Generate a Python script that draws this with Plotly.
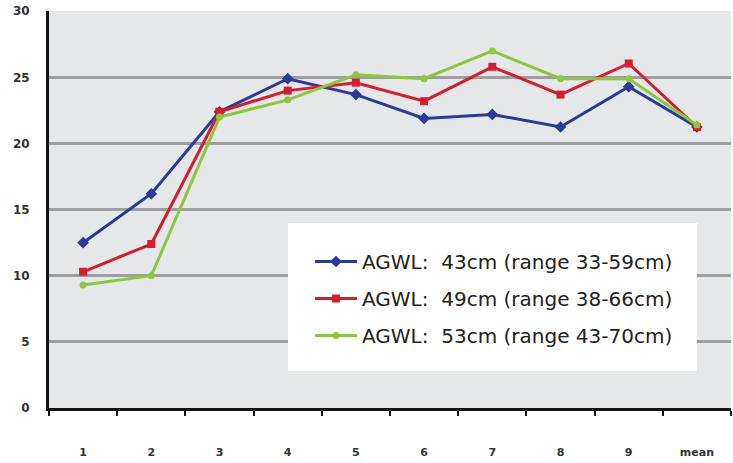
import plotly.graph_objects as go

categories = ["1", "2", "3", "4", "5", "6", "7", "8", "9", "mean"]
series_names = [
    "AGWL:\u00a0 43cm (range 33-59cm)",
    "AGWL:\u00a0 49cm (range 38-66cm)",
    "AGWL:\u00a0 53cm (range 43-70cm)",
]
blue_vals = [12.5, 16.2, 22.4, 24.9, 23.7, 21.9, 22.2, 21.25, 24.3, 21.25]
red_vals = [10.3, 12.4, 22.4, 24.0, 24.6, 23.2, 25.8, 23.7, 26.05, 21.25]
green_vals = [9.3, 10.0, 22.0, 23.3, 25.2, 24.9, 27.0, 24.9, 24.9, 21.4]
y_ticks = [0, 5, 10, 15, 20, 25, 30]

colors = ["#2b3a98", "#d21f30", "#8dc63f"]
symbols = ["diamond", "square", "circle"]
msizes = [9, 8, 7]

fig = go.Figure()
for i, vals in enumerate([blue_vals, red_vals, green_vals]):
    fig.add_trace(go.Scatter(
        x=categories, y=vals, name=series_names[i], mode="lines+markers",
        line=dict(color=colors[i], width=3),
        marker=dict(symbol=symbols[i], size=msizes[i], color=colors[i]),
        legendgroup=f"g{i}",
    ))

fig.add_shape(type="rect", xref="paper", yref="paper",
              x0=(288 - 49) / 682, x1=(697 - 49) / 682,
              y0=(408 - 371) / 397, y1=(408 - 223) / 397,
              fillcolor="white", line=dict(width=0), layer="above")

fig.update_layout(
    width=733, height=463,
    margin=dict(l=49, r=2, t=11, b=55),
    paper_bgcolor="white", plot_bgcolor="#e6e7e9",
    showlegend=True,
    legend=dict(
        x=(310 - 49) / 682, y=(408 - 242) / 397, xanchor="left", yanchor="top",
        bgcolor="rgba(0,0,0,0)", borderwidth=0,
        font=dict(family="DejaVu Sans", size=20, color="#222222"),
        tracegroupgap=8, itemwidth=42, traceorder="grouped",
    ),
    xaxis=dict(
        type="category", range=[-0.5, 9.5], tickson="boundaries",
        ticks="outside", ticklen=5, tickwidth=2, tickcolor="#111111",
        showline=True, linecolor="#111111", linewidth=3,
        showgrid=False, ticklabelstandoff=32, automargin=False,
        ticklabeloverflow="allow",
        tickfont=dict(family="DejaVu Sans", size=11, color="#333333", weight="bold"),
    ),
    yaxis=dict(
        range=[0, 30.02], tickvals=y_ticks, ticks="",
        showline=True, linecolor="#111111", linewidth=3,
        showgrid=True, gridcolor="#9e9e9e", gridwidth=2.5,
        zeroline=False, ticklabelstandoff=14, automargin=False,
        ticklabeloverflow="allow",
        tickfont=dict(family="DejaVu Sans", size=12, color="#333333", weight="bold"),
    ),
)

fig.write_html("out.html", config={"displayModeBar": False},
               post_script="document.body.style.margin='0';")
